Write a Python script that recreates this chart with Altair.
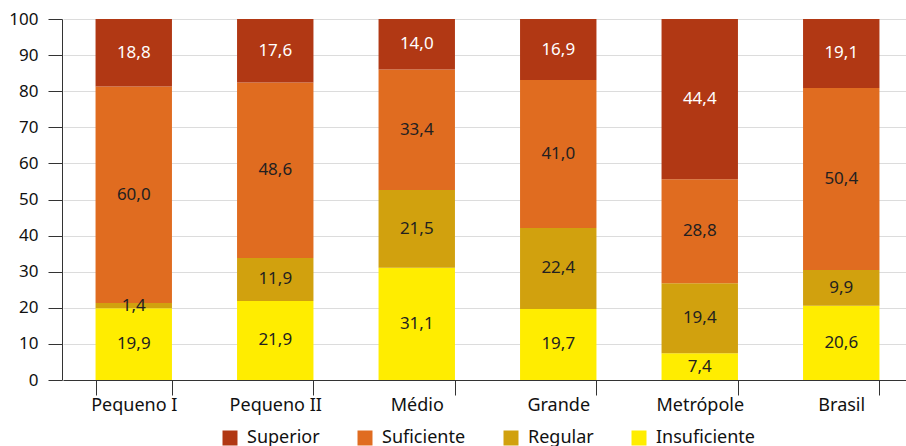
import altair as alt
import pandas as pd

categorias = ["Pequeno I", "Pequeno II", "Médio", "Grande", "Metrópole", "Brasil"]
insuficiente = [19.9, 21.9, 31.1, 19.7, 7.4, 20.6]
regular = [1.4, 11.9, 21.5, 22.4, 19.4, 9.9]
suficiente = [60.0, 48.6, 33.4, 41.0, 28.8, 50.4]
superior = [18.8, 17.6, 14.0, 16.9, 44.4, 19.1]
niveis = ["Insuficiente", "Regular", "Suficiente", "Superior"]
legenda = ["Superior", "Suficiente", "Regular", "Insuficiente"]
cores_legenda = ["#B13814", "#E06C20", "#D1A10E", "#FFED00"]
y_ticks = [0, 10, 20, 30, 40, 50, 60, 70, 80, 90, 100]

rows = []
series = [insuficiente, regular, suficiente, superior]
for i, c in enumerate(categorias):
    for j, n in enumerate(niveis):
        rows.append({"cat": c, "nivel": n, "ordem": j, "valor": series[j][i]})
df = pd.DataFrame(rows)

FONT = "Noto Sans"
FS = 17

base = alt.Chart(df).transform_stack(
    stack="valor", groupby=["cat"], as_=["y0", "y1"],
    sort=[alt.SortField("ordem", order="ascending")]
).transform_calculate(
    mid="(datum.y0 + datum.y1) / 2",
    label="replace(format(datum.valor, '.1f'), '.', ',')"
)

xscale = alt.Scale(paddingInner=0.46, paddingOuter=0.23, range=[1, 850])
yscale = alt.Scale(domain=[0, 100], nice=False, clamp=True)
xaxis = alt.Axis(labelAngle=0, tickBand="extent", tickSize=15,
                 tickColor="#333", domainColor="#333",
                 labelFontSize=18, labelColor="#111", labelFont=FONT,
                 labelPadding=1, grid=False)
yaxis = alt.Axis(values=y_ticks, tickSize=14, tickColor="#333",
                 domainColor="#333", labelFontSize=FS,
                 labelColor="#111", labelFont=FONT, labelPadding=10,
                 grid=True, gridColor="#DCDCDC")

bars = base.mark_bar(clip=True).encode(
    x=alt.X("cat:N", sort=categorias, title=None, scale=xscale, axis=xaxis),
    y=alt.Y("y0:Q", title=None, scale=yscale, axis=yaxis),
    y2="y1:Q",
    color=alt.Color("nivel:N", scale=alt.Scale(domain=legenda, range=cores_legenda),
                    legend=alt.Legend(title=None, orient="none", direction="horizontal",
                                      legendX=159, legendY=410,
                                      symbolType="square", symbolSize=225,
                                      symbolStrokeWidth=0, labelFontSize=18,
                                      labelFont=FONT, labelColor="#111",
                                      columnPadding=36, labelOffset=8, padding=0))
)

texts = base.mark_text(fontSize=FS, font=FONT).encode(
    x=alt.X("cat:N", sort=categorias, title=None, scale=xscale, axis=xaxis),
    y=alt.Y("mid:Q", title=None, scale=yscale, axis=yaxis),
    text="label:N",
    color=alt.condition(alt.datum.nivel == "Superior", alt.value("#FFFFFF"), alt.value("#231F20"))
)

chart = alt.layer(bars, texts).properties(
    width=844, height=361,
    autosize=alt.AutoSizeParams(type="none"),
    padding={"left": 62, "top": 19, "right": 0, "bottom": 66}
).configure_view(stroke=None).configure_axis(domainWidth=1, tickWidth=1)

chart.save("out.html", embed_options={"renderer": "svg", "actions": False})
